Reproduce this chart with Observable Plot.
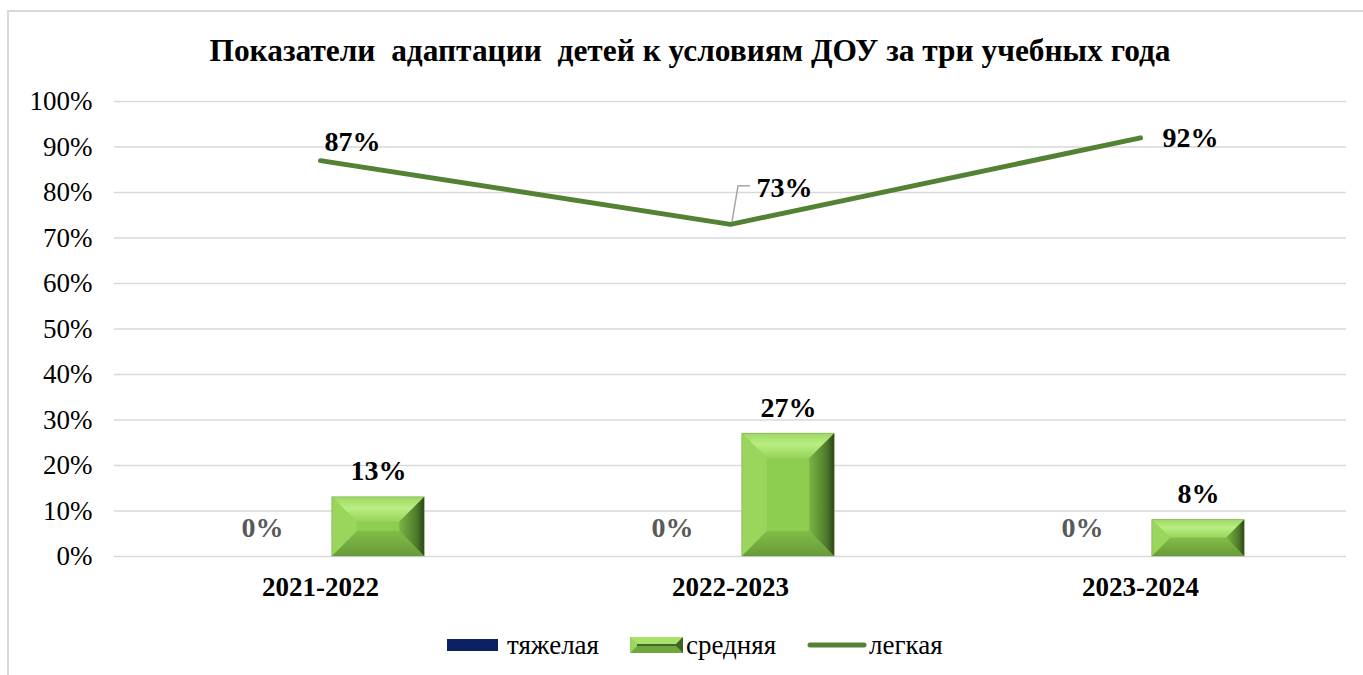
<!DOCTYPE html>
<html>
<head>
<meta charset="utf-8">
<script src="https://cdn.jsdelivr.net/npm/d3@7"></script>
<script src="https://cdn.jsdelivr.net/npm/@observablehq/plot@0.6"></script>
<style>
  html, body { margin: 0; padding: 0; background: #fff; }
  #wrap { position: relative; width: 1363px; height: 675px; overflow: hidden; font-family: "Liberation Serif", "Times New Roman", Times, serif; }
  #frame { position: absolute; left: 7px; top: 10px; width: 2000px; height: 2000px; border-left: 2px solid #d9d9d9; border-top: 2px solid #d9d9d9; box-sizing: border-box; }
  #title { position: absolute; left: 0; width: 1380px; top: 33px; line-height: 36px; text-align: center; font-weight: bold; font-size: 31.4px; color: #000; white-space: pre; }
  #chart { position: absolute; left: 0; top: 80px; }
  #legend { position: absolute; top: 631px; left: 0; width: 1363px; height: 28px; }
  .item { position: absolute; top: 0; height: 28px; display: flex; align-items: center; font-size: 27px; color: #000; white-space: nowrap; }
</style>
</head>
<body>
<div id="wrap">
  <div id="frame"></div>
  <div id="title"></div>
  <div id="chart"></div>
  <div id="legend"></div>
</div>
<script>
const title = "Показатели  адаптации  детей к условиям ДОУ за три учебных года";
const years = ["2021-2022", "2022-2023", "2023-2024"];
const seriesNames = ["тяжелая", "средняя", "легкая"];
const heavy = [0, 0, 0];
const medium = [0.13, 0.27, 0.08];
const light = [0.87, 0.73, 0.92];
const yTicks = [0, 0.1, 0.2, 0.3, 0.4, 0.5, 0.6, 0.7, 0.8, 0.9, 1.0];

const colHeavy = "#0b2161";
const colLine = "#548235";

const heavyData = years.map((y, i) => ({year: y, value: heavy[i]}));
const mediumData = years.map((y, i) => ({year: y, value: medium[i]}));
const lightData = years.map((y, i) => ({year: y, value: light[i]}));

const pct = d3.format(".0%");

function bevel(index, scales, values, dimensions, context, next) {
  const g = next(index, scales, values, dimensions, context);
  d3.select(g).selectAll("rect").each(function() {
    const r = d3.select(this);
    const x = +r.attr("x"), y = +r.attr("y"), w = +r.attr("width"), h = +r.attr("height");
    const b = Math.min(25, h / 2, w / 2);
    const p = (pts) => pts.map(q => q.join(",")).join(" ");
    const parent = d3.select(this.parentNode);
    parent.append("polygon").attr("points", p([[x, y], [x + w, y], [x + w - b, y + b], [x + b, y + b]])).attr("fill", "url(#bvTop)");
    parent.append("polygon").attr("points", p([[x, y + h], [x + w, y + h], [x + w - b, y + h - b], [x + b, y + h - b]])).attr("fill", "url(#bvBottom)");
    parent.append("polygon").attr("points", p([[x, y], [x + b, y + b], [x + b, y + h - b], [x, y + h]])).attr("fill", "#99d65b");
    parent.append("polygon").attr("points", p([[x + w, y], [x + w - b, y + b], [x + w - b, y + h - b], [x + w, y + h]])).attr("fill", "url(#bvRight)");
    parent.append("rect").attr("x", x).attr("y", y).attr("width", w).attr("height", h).attr("fill", "none").attr("stroke", "#6f8f55").attr("stroke-opacity", 0.5).attr("stroke-width", 0.8);
  });
  return g;
}

function leader(index, scales, values, dimensions, context, next) {
  const g = next(index, scales, values, dimensions, context);
  const outer = d3.create("svg:g");
  const half = typeof scales.x.bandwidth === "function" ? scales.x.bandwidth() / 2 : (scales.x.bandwidth || 0) / 2;
  for (const i of index) {
    const px = scales.x(lightData[i].year) + half;
    const py = scales.y(lightData[i].value);
    outer.append("path")
      .attr("d", `M${px + 2},${py - 2}L${px + 8},${py - 38}L${px + 20},${py - 38}`)
      .attr("fill", "none").attr("stroke", "#a6a6a6").attr("stroke-width", 1.5);
  }
  outer.node().appendChild(g);
  return outer.node();
}

const barInset = 158.8;
const barShift = 58;
const fontFam = "'Liberation Serif', 'Times New Roman', Times, serif";

const plot = Plot.plot({
  width: 1363,
  height: 540,
  marginLeft: 114,
  marginRight: 17,
  marginTop: 21,
  marginBottom: 64,
  x: {domain: years, padding: 0, axis: null},
  y: {domain: [0, 1], axis: null},
  style: {fontFamily: fontFam, background: "transparent", color: "#000"},
  marks: [
    Plot.gridY(yTicks, {stroke: "#d9d9d9", strokeOpacity: 1, strokeWidth: 1.5}),
    Plot.axisY(yTicks, {tickFormat: pct, tickSize: 0, tickPadding: 22, fontSize: 27, label: null, fill: "#000"}),
    Plot.axisX(years, {tickSize: 0, tickPadding: 20, fontSize: 27, fontWeight: "bold", label: null, fill: "#000"}),
    Plot.barY(heavyData, {x: "year", y: "value", dx: -barShift, insetLeft: barInset, insetRight: barInset, fill: colHeavy}),
    Plot.barY(mediumData, {x: "year", y: "value", dx: barShift, insetLeft: barInset, insetRight: barInset, fill: "#8dcd50", render: bevel}),
    Plot.lineY(lightData, {x: "year", y: "value", stroke: colLine, strokeWidth: 5, strokeLinecap: "round", strokeLinejoin: "miter"}),
    Plot.text(heavyData, {x: "year", y: "value", text: d => pct(d.value), dx: -barShift, dy: -28, fontSize: 28, fontWeight: "bold", fill: "#595959"}),
    Plot.text(mediumData, {x: "year", y: "value", text: d => pct(d.value), dx: barShift, dy: -26, fontSize: 28, fontWeight: "bold", fill: "#000"}),
    Plot.text(lightData, {filter: (d, i) => i === 0, x: "year", y: "value", text: d => pct(d.value), dx: 32, dy: -19, fontSize: 28, fontWeight: "bold", fill: "#000"}),
    Plot.text(lightData, {filter: (d, i) => i === 1, x: "year", y: "value", text: d => pct(d.value), dx: 54, dy: -36, fontSize: 28, fontWeight: "bold", fill: "#000", render: leader}),
    Plot.text(lightData, {filter: (d, i) => i === 2, x: "year", y: "value", text: d => pct(d.value), dx: 50, dy: 0, fontSize: 28, fontWeight: "bold", fill: "#000"})
  ]
});

// gradient definitions for bevel faces
const svgSel = d3.select(plot);
const defs = svgSel.insert("defs", ":first-child");
function grad(id, horizontal, stops) {
  const lg = defs.append("linearGradient").attr("id", id)
    .attr("x1", 0).attr("y1", 0).attr("x2", horizontal ? 1 : 0).attr("y2", horizontal ? 0 : 1);
  stops.forEach(([o, c]) => lg.append("stop").attr("offset", o).attr("stop-color", c));
}
grad("bvTop", false, [[0, "#9ed962"], [0.45, "#b9ee83"], [1, "#97d45a"]]);
grad("bvBottom", false, [[0, "#82bd47"], [1, "#679b38"]]);
grad("bvRight", true, [[0, "#7cb444"], [0.7, "#4d7a2a"], [1, "#2a4416"]]);

document.getElementById("chart").appendChild(plot);
document.getElementById("title").textContent = title;

// legend
const legend = d3.select("#legend");
const items = [
  {name: seriesNames[0], left: 447, type: "bar"},
  {name: seriesNames[1], left: 630, type: "bevel"},
  {name: seriesNames[2], left: 807, type: "line"}
];
items.forEach(it => {
  const div = legend.append("div").attr("class", "item").style("left", it.left + "px");
  const sw = div.append("svg").attr("width", it.type === "line" ? 60 : 54).attr("height", 28).style("margin-right", it.type === "bar" ? "6px" : "2px");
  if (it.type === "bar") {
    sw.append("rect").attr("x", 0).attr("y", 8).attr("width", 51).attr("height", 12).attr("fill", colHeavy);
  } else if (it.type === "bevel") {
    const x = 0, y = 6, w = 53, h = 16, b = 7;
    const p = (pts) => pts.map(q => q.join(",")).join(" ");
    sw.append("rect").attr("x", x).attr("y", y).attr("width", w).attr("height", h).attr("fill", "#8dcd50");
    sw.append("polygon").attr("points", p([[x, y], [x + w, y], [x + w - b, y + b], [x + b, y + b]])).attr("fill", "#a8e26d");
    sw.append("polygon").attr("points", p([[x, y + h], [x + w, y + h], [x + w - b, y + h - b], [x + b, y + h - b]])).attr("fill", "#70a63d");
    sw.append("polygon").attr("points", p([[x, y], [x + b, y + b], [x + b, y + h - b], [x, y + h]])).attr("fill", "#99d65b");
    sw.append("polygon").attr("points", p([[x + w, y], [x + w - b, y + b], [x + w - b, y + h - b], [x + w, y + h]])).attr("fill", "#3d6222");
    sw.append("line").attr("x1", b).attr("x2", w - b).attr("y1", y + h / 2).attr("y2", y + h / 2).attr("stroke", "#3f6a25").attr("stroke-width", 2);
  } else {
    sw.append("line").attr("x1", 3).attr("x2", 57).attr("y1", 14).attr("y2", 14).attr("stroke", colLine).attr("stroke-width", 5).attr("stroke-linecap", "round");
  }
  div.append("span").text(it.name);
});
</script>
</body>
</html>
